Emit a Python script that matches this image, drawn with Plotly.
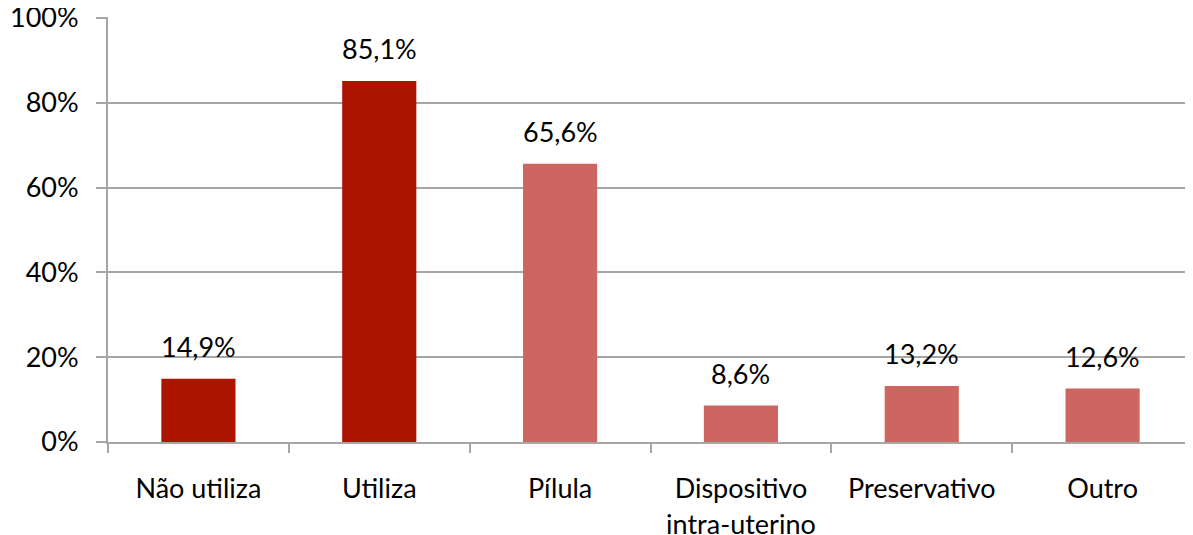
import plotly.graph_objects as go

categories = ["Não utiliza", "Utiliza", "Pílula", "Dispositivo<br>intra-uterino", "Preservativo", "Outro"]
values = [14.9, 85.1, 65.6, 8.6, 13.2, 12.6]
labels = ["14,9%", "85,1%", "65,6%", "8,6%", "13,2%", "12,6%"]
colors = ["#AB1500", "#AB1500", "#CD6660", "#CD6660", "#CD6660", "#CD6660"]
ytickvals = [0, 20, 40, 60, 80, 100]
yticktext = ["0%", "20%", "40%", "60%", "80%", "100%"]

grid = "#A6A6A6"
FS = 27
fig = go.Figure(go.Bar(
    x=categories, y=values, marker=dict(color=colors, line=dict(width=0)),
    width=0.41,
))
for c, v, t in zip(categories, values, labels):
    fig.add_annotation(x=c, y=v, text=t, showarrow=False, yanchor="bottom",
                       yshift=14, font=dict(size=FS, color="black"))
fig.update_layout(
    width=1185, height=527, margin=dict(l=100, r=0, t=9, b=93),
    plot_bgcolor="white", paper_bgcolor="white",
    font=dict(family="Lato, Open Sans, sans-serif", size=FS, color="black"),
    showlegend=False,
)
fig.update_xaxes(showline=True, linecolor=grid, linewidth=2, ticks="outside",
                 tickson="boundaries", ticklen=9, tickcolor=grid, tickwidth=2,
                 showgrid=False, tickfont=dict(size=FS), automargin=False,
                 ticklabelstandoff=22)
fig.update_yaxes(range=[0, 100.2], tickvals=ytickvals, ticktext=yticktext,
                 showgrid=True, gridcolor=grid, gridwidth=2, showline=True,
                 linecolor=grid, linewidth=2, ticks="outside", ticklen=10,
                 tickcolor=grid, tickwidth=2, zeroline=False, tickfont=dict(size=FS),
                 automargin=False, ticklabelstandoff=12, ticklabeloverflow="allow")
fig.write_html("out.html")
